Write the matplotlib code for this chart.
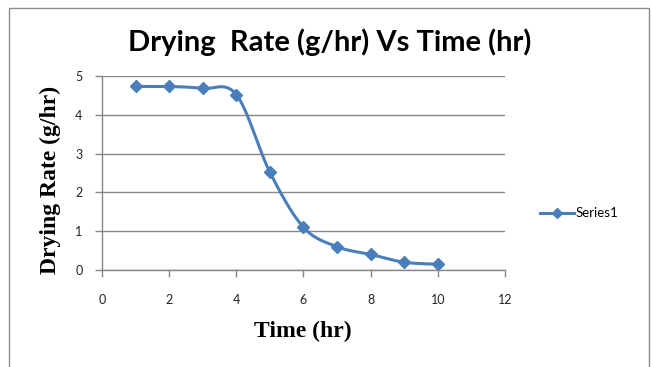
import numpy as np
import matplotlib
matplotlib.use("Agg")
import matplotlib.pyplot as plt
from matplotlib.patches import Rectangle
from matplotlib.lines import Line2D

time_hr = [1, 2, 3, 4, 5, 6, 7, 8, 9, 10]
drying_rate = [4.73, 4.73, 4.68, 4.52, 2.52, 1.10, 0.60, 0.40, 0.20, 0.15]
x_ticks = [0, 2, 4, 6, 8, 10, 12]
y_ticks = [0, 1, 2, 3, 4, 5]
series_name = "Series1"
title = "Drying  Rate (g/hr) Vs Time (hr)"
xlabel = "Time (hr)"
ylabel = "Drying Rate (g/hr)"

def smooth(xs, ys, n=30):
    P = np.column_stack([xs, ys]).astype(float)
    Pe = np.vstack([P[0], P, P[-1]])
    out = []
    for i in range(len(P) - 1):
        p0, p1, p2, p3 = Pe[i], Pe[i + 1], Pe[i + 2], Pe[i + 3]
        c1 = p1 + (p2 - p0) / 6.0
        c2 = p2 - (p3 - p1) / 6.0
        t = np.linspace(0, 1, n)[:, None]
        seg = ((1 - t) ** 3) * p1 + 3 * ((1 - t) ** 2) * t * c1 + 3 * (1 - t) * t ** 2 * c2 + t ** 3 * p2
        out.append(seg if i == 0 else seg[1:])
    s = np.vstack(out)
    return s[:, 0], s[:, 1]

blue = "#4A7EBB"
grid_c = "#878787"
W, H = 651, 367
fig = plt.figure(figsize=(W / 100, H / 100), dpi=100)

# chart frame
fig.patches.append(Rectangle((9 / W, -0.1), (649 - 9) / W, 1.1 - 8 / H, transform=fig.transFigure,
                             fill=False, edgecolor="#8c8c8c", linewidth=1.0))

ax = fig.add_axes([102 / W, 1 - 270 / H, (505 - 102) / W, (270 - 76) / H])
sx, sy = smooth(time_hr, drying_rate)
ax.plot(sx, sy, color=blue, linewidth=2.2, solid_capstyle="round")
ax.plot(time_hr, drying_rate, linestyle="none", marker="D", markersize=6.5, color=blue)

ax.set_xlim(x_ticks[0], x_ticks[-1])
ax.set_ylim(y_ticks[0], y_ticks[-1])
ax.set_xticks(x_ticks)
ax.set_yticks(y_ticks)
ax.set_xticklabels([str(v) for v in x_ticks], fontsize=9, fontfamily="Lato", color="#222222")
ax.set_yticklabels([str(v) for v in y_ticks], fontsize=9, fontfamily="Lato", color="#222222")
ax.tick_params(axis="both", direction="out", length=5, color=grid_c, width=1)
ax.tick_params(axis="x", pad=12)
ax.tick_params(axis="y", pad=9)
ax.grid(axis="y", color=grid_c, linewidth=1)
ax.set_axisbelow(True)
for s in ["top", "right"]:
    ax.spines[s].set_visible(False)
for s in ["left", "bottom"]:
    ax.spines[s].set_color(grid_c)
    ax.spines[s].set_linewidth(1)

fig.text(330 / W, 1 - 42 / H, title, ha="center", va="center", fontsize=21,
         fontweight="bold", fontfamily="Lato")
fig.text(303 / W, 1 - 331 / H, xlabel, ha="center", va="center", fontsize=17,
         fontweight="bold", fontfamily="Liberation Serif")
fig.text(50 / W, 1 - 180 / H, ylabel, ha="center", va="center", rotation=90, fontsize=17,
         fontweight="bold", fontfamily="Liberation Serif")

# legend
fig.add_artist(Line2D([540 / W, 574 / W], [1 - 213 / H, 1 - 213 / H], transform=fig.transFigure,
                      color=blue, linewidth=2.2, marker=None))
fig.add_artist(Line2D([557 / W], [1 - 213 / H], transform=fig.transFigure,
                      color=blue, marker="D", markersize=5.5, linestyle="none"))
fig.text(576 / W, 1 - 213 / H, series_name, ha="left", va="center", fontsize=9.5, fontfamily="Lato")

fig.savefig("out.png", dpi=100)
